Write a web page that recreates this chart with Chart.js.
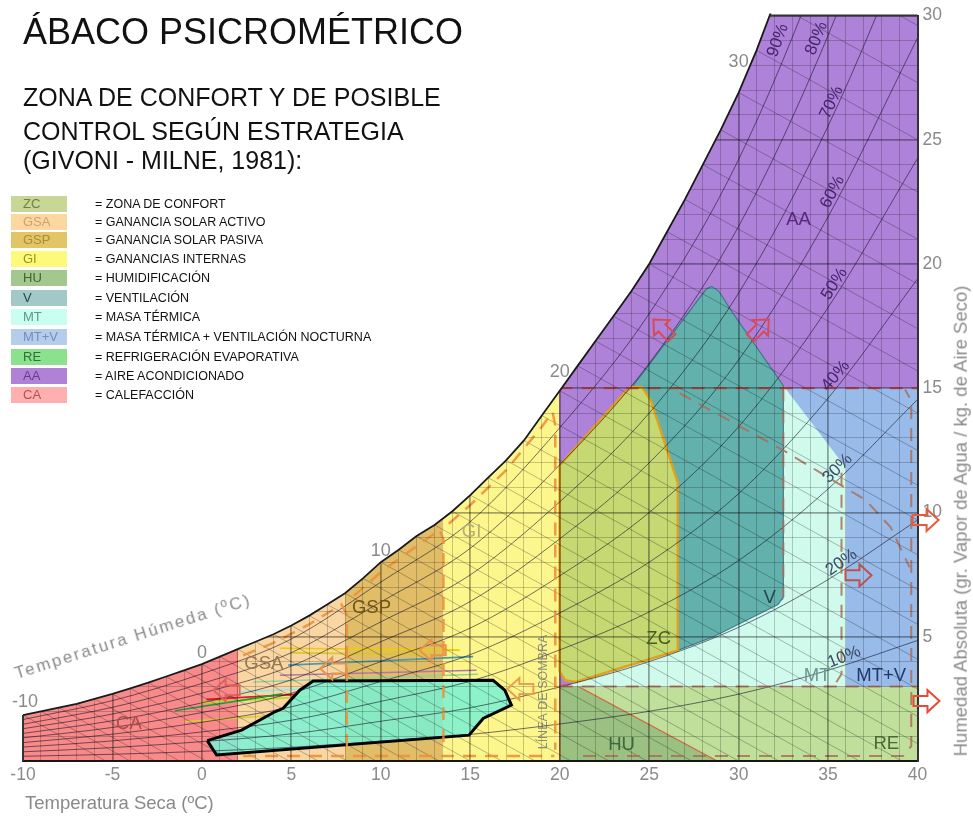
<!DOCTYPE html>
<html lang="es">
<head>
<meta charset="utf-8">
<title>Ábaco psicrométrico</title>
<script src="https://cdn.jsdelivr.net/npm/chart.js@4.4.0/dist/chart.umd.min.js"></script>
<style>
  body { margin: 0; background: #fff; }
  #contenedor { position: relative; width: 973px; height: 816px; font-family: "Liberation Sans", Arial, sans-serif; }
  #contenedor canvas { position: absolute; left: 0; top: 0; }
  .texto { position: absolute; white-space: nowrap; line-height: 1; pointer-events: none; }
  .titulo { left: 23px; top: 14px; font-size: 36px; color: #111; }
  .subtitulo { left: 23px; font-size: 25px; color: #111; }
  .muestra { position: absolute; left: 11px; width: 56px; height: 16px; line-height: 16px; font-size: 13px; padding-left: 12px; box-sizing: border-box; }
  .descripcion { position: absolute; left: 95px; height: 16px; line-height: 16px; font-size: 12.5px; color: #111; white-space: nowrap; }
  .gris { color: #8a8a8a; font-size: 18.5px; }
</style>
</head>
<body>
<div id="contenedor">
  <canvas id="abaco"></canvas>
  <div class="texto titulo">ÁBACO PSICROMÉTRICO</div>
  <div class="texto subtitulo" style="top:85px">ZONA DE CONFORT Y DE POSIBLE</div>
  <div class="texto subtitulo" style="top:119px">CONTROL SEGÚN ESTRATEGIA</div>
  <div class="texto subtitulo" style="top:148px">(GIVONI - MILNE, 1981):</div>
  <div id="leyenda"></div>
  <div class="texto gris" style="left:25px; top:794px">Temperatura Seca (ºC)</div>
  <div class="texto gris" style="left:961px; top:521px; transform: translate(-50%, -50%) rotate(-90deg)">Humedad Absoluta (gr. Vapor de Agua / kg. de Aire Seco)</div>
  <div class="texto" style="left:17px; top:665px; font-size:17px; letter-spacing:2.1px; color:#8a8a8a; transform-origin: 0 14.4px; transform: rotate(-17.6deg)">Temperatura Húmeda (ºC)</div>
</div>
<script>
// ---- Curva de saturación (temperatura seca ºC / humedad absoluta g/kg) ----
const tempSat = [-10, -9, -8, -7, -6, -5, -4, -3, -2, -1,
                 0, 1, 2, 3, 4, 5, 6, 7, 8, 9,
                 10, 11, 12, 13, 14, 15, 16, 17, 18, 19,
                 20, 21, 22, 23, 24, 25, 26, 27, 28, 29,
                 30, 31, 32, 33, 34, 35, 36, 37, 38, 39, 40];
const humSat = [1.85, 2.0, 2.15, 2.3, 2.5, 2.7, 2.92, 3.15, 3.4, 3.65,
                3.9, 4.2, 4.5, 4.8, 5.1, 5.45, 5.85, 6.3, 6.75, 7.35,
                8.0, 8.5, 9.05, 9.5, 10.05, 10.7, 11.4, 12.1, 12.9, 13.9,
                14.9, 15.9, 16.9, 17.9, 18.9, 20.0, 21.3, 22.6, 24.0, 25.4,
                26.9, 28.6, 30.5, 32.4, 34.4, 36.5, 38.7, 41.0, 43.4, 45.9, 48.5];

// ---- Curvas de humedad relativa, leídas cada 5 ºC ----
const tempHR = [-10, -5, 0, 5, 10, 15, 20, 25, 30, 35, 40];
const hr10 = [0.19, 0.27, 0.39, 0.55, 0.80, 1.07, 1.49, 2.00, 2.69, 3.65, 4.85];
const hr20 = [0.37, 0.54, 0.78, 1.09, 1.60, 2.14, 2.98, 4.00, 5.38, 7.30, 9.70];
const hr30 = [0.56, 0.81, 1.17, 1.64, 2.40, 3.21, 4.47, 6.00, 8.07, 10.95, 14.55];
const hr40 = [0.74, 1.08, 1.56, 2.18, 3.20, 4.28, 5.96, 8.00, 10.76, 14.60, 19.40];
const hr50 = [0.93, 1.35, 1.95, 2.73, 4.00, 5.35, 7.45, 10.00, 13.45, 18.25, 24.25];
const hr60 = [1.11, 1.62, 2.34, 3.27, 4.80, 6.42, 8.94, 12.00, 16.14, 21.90, 29.10];
const hr70 = [1.30, 1.89, 2.73, 3.82, 5.60, 7.49, 10.43, 14.00, 18.83, 25.55, 33.95];
const hr80 = [1.48, 2.16, 3.12, 4.36, 6.40, 8.56, 11.92, 16.00, 21.52, 29.20, 38.80];
const hr90 = [1.67, 2.43, 3.51, 4.91, 7.20, 9.63, 13.41, 18.00, 24.21, 32.85, 43.65];
const etiquetasHR = ['10%', '20%', '30%', '40%', '50%', '60%', '70%', '80%', '90%'];

// ---- Líneas de temperatura húmeda (una por grado) ----
const tempHumeda = [-10, -9, -8, -7, -6, -5, -4, -3, -2, -1, 0, 1, 2, 3, 4, 5, 6, 7, 8, 9, 10, 11,
                    12, 13, 14, 15, 16, 17, 18, 19, 20, 21, 22, 23, 24, 25, 26, 27, 28, 29, 30, 31, 32, 33, 34];
const pendienteHumeda = -0.4; // g/kg por ºC
const etiquetasHumeda = [-10, 0, 10, 20, 30];

// ---- Zonas de estrategia (vértices: T seca, humedad) ----
const zonaCA_T = [-10, -10, 2, 2];        const zonaCA_W = [0, 30, 30, 0];
const zonaGSA_T = [2, 2, 8, 8];           const zonaGSA_W = [0, 30, 30, 0];
const zonaGSP_T = [8, 8, 13.5, 13.5];     const zonaGSP_W = [0, 30, 30, 0];
const zonaGI_T = [13.5, 13.5, 20, 20];    const zonaGI_W = [0, 30, 30, 0];
const zonaAA_T = [20, 20, 40, 40];        const zonaAA_W = [0, 30, 30, 0];
const zonaRE_T = [20, 40, 40, 20];        const zonaRE_W = [0, 0, 3, 3];
const zonaHU_T = [20, 20, 20.9, 28.8];    const zonaHU_W = [0, 3.05, 3.05, 0];
const zonaMTV_T = [32.5, 40, 40, 36, 36]; const zonaMTV_W = [15, 15, 3, 3, 11.8];
const zonaMT_T = [20.4, 36, 36, 32.5, 32.5, 28.6, 26.6, 20.9];
const zonaMT_W = [3, 3, 11.8, 15.1, 6.5, 5.0, 4.45, 3.18];
const zonaV_T = [23.9, 28.2, 28.5, 28.9, 29.7, 32.5, 32.5, 32.2, 28.6, 26.6];
const zonaV_W = [14.9, 19.0, 19.1, 18.9, 18.0, 15.1, 6.6, 6.3, 5.0, 4.45];
const zonaZC_T = [20, 20, 20.3, 20.9, 26.6, 26.6, 25.1, 24.6, 24.0, 23.6];
const zonaZC_W = [11.9, 3.6, 3.25, 3.18, 4.45, 11.2, 14.5, 15.05, 15.05, 14.8];

// ---- Polígono de datos climáticos del lugar ----
const climaT = [0.30, 0.82, 14.93, 15.72, 17.30, 16.93, 16.27, 6.22, 5.47, 4.54, 4.08, 2.22];
const climaW = [0.82, 0.24, 1.04, 1.71, 2.25, 2.85, 3.25, 3.22, 2.85, 2.12, 1.98, 1.24];

// ---- Líneas mensuales (T mín - T máx) ----
const mesTIni = [4.36, 5.0, 4.82, 4.36, 2.87, 2.03, 0.26, -0.11, -1.51, -0.95];
const mesTFin = [14.41, 13.6, 15.16, 15.35, 15.44, 12.0, 5.3, 6.22, 4.5, 13.0];
const mesWIni = [4.54, 4.35, 3.86, 3.45, 3.18, 2.78, 2.48, 2.34, 2.02, 1.58];
const mesWFin = [4.46, 4.28, 4.20, 3.65, 3.49, 3.10, 2.68, 2.60, 2.70, 2.30];
const mesColor = ['#f0cc00', '#d9c82a', '#4f9aa8', '#b07aa8', '#8fd49a', '#9ae6e6', '#d42020', '#b8e020', '#1a9a40', '#d8d030'];

// ---- Bordes discontinuos de las estrategias ----
const guionBase_T = [2.3, 19.7];                           const guionBase_W = [0.2, 0.2];
const guionGSA_T = [2.3, 4, 6, 7.8, 8.1, 8.1];              const guionGSA_W = [4.25, 4.75, 5.5, 6.3, 5.9, 0.45];
const guionGSP_T = [8.5, 10, 12, 13.3, 13.5, 13.5];         const guionGSP_W = [6.65, 7.6, 8.65, 9.3, 8.9, 0.45];
const guionGI_T = [13.8, 15, 17, 19, 19.6, 19.75, 19.75];   const guionGI_W = [9.55, 10.3, 11.7, 13.45, 14.05, 13.5, 0.45];
const guionRE_T = [21.3, 39.2, 39.65, 39.65, 39.3];         const guionRE_W = [0.2, 0.2, 0.6, 14.5, 14.95];
const guionMT_T = [35.75, 35.75, 35.4];                     const guionMT_W = [11.6, 3.5, 3.1];
const guionV_T = [32.5, 32.5];                              const guionV_W = [15, 6.6];
const guionDiag_T = [26.7, 32.5, 37.1, 38.5, 39.55];        const guionDiag_W = [14.8, 12.5, 10.5, 9.4, 7.8];
const guion15_T = [20, 40];                                 const guion15_W = [15, 15];
const guion3_T = [20, 40];                                  const guion3_W = [3, 3];

// ---- Leyenda ----
const leyendaCodigo = ['ZC', 'GSA', 'GSP', 'GI', 'HU', 'V', 'MT', 'MT+V', 'RE', 'AA', 'CA'];
const leyendaTexto = ['= ZONA DE CONFORT', '= GANANCIA SOLAR ACTIVO', '= GANANCIA SOLAR PASIVA', '= GANANCIAS INTERNAS',
  '= HUMIDIFICACIÓN', '= VENTILACIÓN', '= MASA TÉRMICA', '= MASA TÉRMICA + VENTILACIÓN NOCTURNA',
  '= REFRIGERACIÓN EVAPORATIVA', '= AIRE ACONDICIONADO', '= CALEFACCIÓN'];
const leyendaFondo = ['#c8d796', '#fdd7a0', '#e2c666', '#fdfa7a', '#a2c88e', '#a2c8c8', '#c8fff0', '#b4cdeb', '#8ce18c', '#af82d7', '#ffafaf'];
const leyendaTinta = ['#6e8246', '#d2a06e', '#aa8c3c', '#969628', '#3c6432', '#284650', '#649689', '#788cbe', '#326e3c', '#643c96', '#b45050'];
const leyendaArriba = [196, 214, 232, 251, 270, 290, 309, 329, 349, 368, 387];

// ---- Rótulos dentro del ábaco (posición en T, W) ----
const rotulos = ['CA', 'GSA', 'GSP', 'GI', 'ZC', 'V', 'HU', 'RE', 'MT', 'MT+V', 'AA'];
const rotulosT = [-4.08, 3.46, 9.48, 15.07, 25.53, 31.73, 23.46, 38.25, 34.39, 37.97, 33.35];
const rotulosW = [1.49, 3.91, 6.18, 9.22, 4.9, 6.57, 0.64, 0.68, 3.43, 3.43, 21.77];
const rotulosColor = ['#b04b4b', '#96784f', '#6e5514', '#b4af78', '#465f1e', '#1e4650', '#3c693c', '#4b6937', '#6e968c', '#23376e', '#552878'];
const rotulosHR_T = [35.9, 35.75, 35.53, 35.42, 35.36, 35.25, 35.2, 34.36, 32.2];
const rotulosHR_W = [4.18, 7.99, 11.77, 15.5, 19.2, 22.9, 26.5, 29.08, 29.0];
const rotulosHR_Giro = [-22, -35, -45, -50, -57, -62, -65, -68, -70];
const flechasT = [1.38, 7.34, 12.9, 17.8, 25.75, 31.17, 40.45, 36.7, 40.5];
const flechasW = [2.85, 3.72, 4.46, 2.9, 17.4, 17.4, 9.7, 7.47, 2.41];
const flechasGiro = [0, 0, 0, 0, 45, 135, 180, 180, 180];
const flechasColor = ['#e0605a', '#e8924a', '#e8924a', '#e8a050', '#d84a5a', '#d84a5a', '#e85a3a', '#c0504a', '#e84a3a'];

// Construcción de datasets
function puntos(ts, ws) { return ts.map((t, i) => ({ x: t, y: ws[i] })); }
function cerrado(ts, ws) { const p = puntos(ts, ws); p.push(p[0]); return p; }

const capas = [];
function zona(ts, ws, relleno, borde, ancho) {
    capas.push({ data: cerrado(ts, ws), fill: 'shape', backgroundColor: relleno,
                 borderColor: borde || 'rgba(0,0,0,0)', borderWidth: ancho || 0 });
}
function linea(data, color, ancho, guiones, suave) {
    capas.push({ data: data, fill: false, borderColor: color, borderWidth: ancho,
                 borderDash: guiones || [], cubicInterpolationMode: suave ? 'monotone' : 'default' });
}

// Zonas (de abajo hacia arriba)
zona(zonaCA_T, zonaCA_W, '#f98a8a', 'rgba(215,70,70,0.9)', 1.5);
zona(zonaGSA_T, zonaGSA_W, '#fad6a2');
zona(zonaGSP_T, zonaGSP_W, '#e1bd68');
zona(zonaGI_T, zonaGI_W, '#fdf68c');
zona(zonaAA_T, zonaAA_W, '#ae82d8', 'rgba(110,60,140,0.6)', 1);
zona(zonaRE_T, zonaRE_W, '#bfdf9a');
zona(zonaHU_T, zonaHU_W, '#9ac181', 'rgba(215,80,60,0.8)', 1.2);
zona(zonaMTV_T, zonaMTV_W, '#98bbea');
zona(zonaMT_T, zonaMT_W, '#d0faec');
zona(zonaV_T, zonaV_W, '#63b1ac', 'rgba(50,110,130,0.8)', 1.2);
zona(zonaZC_T, zonaZC_W, '#c5d872', '#e1a01e', 2.5);

// Líneas mensuales y polígono climático
mesTIni.forEach((t, i) => linea(puntos([t, mesTFin[i]], [mesWIni[i], mesWFin[i]]), mesColor[i], 1.6));
zona(climaT, climaW, 'rgba(120,242,212,0.85)', '#000', 3);

// Curvas de humedad relativa
[hr10, hr20, hr30, hr40, hr50, hr60, hr70, hr80, hr90].forEach(serie =>
    linea(puntos(tempHR, serie), 'rgba(25,20,45,0.6)', 1, null, true));

// Líneas de temperatura húmeda: desde la curva de saturación hasta humedad 0
tempHumeda.forEach(t => {
    const w = humSat[tempSat.indexOf(t)];
    linea(puntos([t, t - w / pendienteHumeda], [w, 0]), 'rgba(0,0,0,0.26)', 1);
});

// Bordes discontinuos
const naranja = 'rgba(235,145,60,0.9)', marron = 'rgba(170,110,90,0.85)', rojo = 'rgba(215,70,60,0.85)';
linea(puntos(guionBase_T, guionBase_W), naranja, 2.5, [13, 9]);
linea(puntos(guionGSA_T, guionGSA_W), naranja, 2.5, [13, 9]);
linea(puntos(guionGSP_T, guionGSP_W), naranja, 2.5, [13, 9]);
linea(puntos(guionGI_T, guionGI_W), naranja, 2.5, [13, 9]);
linea(puntos(guionRE_T, guionRE_W), marron, 2, [13, 9]);
linea(puntos(guionMT_T, guionMT_W), marron, 2, [13, 9]);
linea(puntos(guionV_T, guionV_W), marron, 2, [13, 9]);
linea(puntos(guionDiag_T, guionDiag_W), marron, 2, [13, 9]);
linea(puntos(guion15_T, guion15_W), rojo, 2, [13, 9]);
linea(puntos(guion3_T, guion3_W), marron, 2, [13, 9]);

capas.forEach((c, i) => { c.order = capas.length - i; });

// Leyenda en HTML
const leyenda = document.getElementById('leyenda');
leyendaCodigo.forEach((cod, i) => {
    const m = document.createElement('div');
    m.className = 'muestra';
    m.style.top = leyendaArriba[i] + 'px';
    m.style.background = leyendaFondo[i];
    m.style.color = leyendaTinta[i];
    m.textContent = cod;
    leyenda.appendChild(m);
    const d = document.createElement('div');
    d.className = 'descripcion';
    d.style.top = leyendaArriba[i] + 'px';
    d.textContent = leyendaTexto[i];
    leyenda.appendChild(d);
});

function flecha(ctx, x, y, giro, color) {
    ctx.save();
    ctx.translate(x, y);
    ctx.rotate(giro * Math.PI / 180);
    ctx.beginPath();
    ctx.moveTo(-13, 0); ctx.lineTo(-1, -11); ctx.lineTo(-1, -5); ctx.lineTo(13, -5);
    ctx.lineTo(13, 5); ctx.lineTo(-1, 5); ctx.lineTo(-1, 11); ctx.closePath();
    ctx.lineWidth = 2; ctx.strokeStyle = color; ctx.stroke();
    ctx.restore();
}

// Máscara blanca sobre la curva de saturación, marco y rótulos
const dibujoAbaco = {
    id: 'dibujoAbaco',
    afterDraw(chart) {
        const { ctx, chartArea: a } = chart;
        const px = (t) => chart.scales.x.getPixelForValue(t);
        const py = (w) => chart.scales.y.getPixelForValue(w);
        const curva = tempSat.map((t, i) => [px(t), py(humSat[i])]);

        ctx.save();
        ctx.beginPath();
        ctx.rect(a.left - 2, a.top - 2, a.right - a.left + 4, a.bottom - a.top + 4);
        ctx.clip();
        ctx.beginPath();
        ctx.moveTo(a.left - 2, curva[0][1]);
        curva.forEach(p => ctx.lineTo(p[0], p[1]));
        ctx.lineTo(curva[curva.length - 1][0], a.top - 2000);
        ctx.lineTo(a.left - 2, a.top - 2000);
        ctx.closePath();
        ctx.fillStyle = '#fff';
        ctx.fill();
        ctx.beginPath();
        curva.forEach((p, i) => i ? ctx.lineTo(p[0], p[1]) : ctx.moveTo(p[0], p[1]));
        ctx.lineWidth = 1.8;
        ctx.strokeStyle = '#1a1a1a';
        ctx.stroke();
        ctx.restore();

        // marco izquierdo y superior
        let xCruce = a.right;
        for (let i = 1; i < curva.length; i++) {
            if (curva[i][1] <= a.top && curva[i - 1][1] > a.top) {
                const f = (curva[i - 1][1] - a.top) / (curva[i - 1][1] - curva[i][1]);
                xCruce = curva[i - 1][0] + f * (curva[i][0] - curva[i - 1][0]);
                break;
            }
        }
        ctx.save();
        ctx.strokeStyle = '#333';
        ctx.lineWidth = 2;
        ctx.beginPath();
        ctx.moveTo(a.left, a.bottom); ctx.lineTo(a.left, curva[0][1]);
        ctx.moveTo(xCruce, a.top); ctx.lineTo(a.right, a.top);
        ctx.stroke();

        // rótulos de temperatura húmeda
        const subir = [13, 11, 11, 19, 31], correr = [2, 0, 0, 0, 0];
        ctx.font = '18px "Liberation Sans", Arial, sans-serif';
        ctx.fillStyle = '#8a8a8a';
        ctx.textAlign = 'center';
        ctx.textBaseline = 'middle';
        etiquetasHumeda.forEach((t, k) => {
            const w = humSat[tempSat.indexOf(t)];
            ctx.fillText(String(t), px(t) + correr[k], py(w) - subir[k]);
        });

        // rótulos de zonas
        ctx.font = '18.5px "Liberation Sans", Arial, sans-serif';
        rotulos.forEach((r, i) => {
            ctx.fillStyle = rotulosColor[i];
            ctx.fillText(r, px(rotulosT[i]), py(rotulosW[i]));
        });

        // rótulos de humedad relativa
        ctx.font = '17px "Liberation Sans", Arial, sans-serif';
        etiquetasHR.forEach((r, i) => {
            ctx.save();
            ctx.translate(px(rotulosHR_T[i]), py(rotulosHR_W[i]));
            ctx.rotate(rotulosHR_Giro[i] * Math.PI / 180);
            ctx.fillStyle = i < 3 ? '#3c4b64' : '#46236e';
            ctx.fillText(r, 0, 0);
            ctx.restore();
        });

        // línea de sombra
        ctx.save();
        ctx.translate(544, 692);
        ctx.rotate(-Math.PI / 2);
        ctx.font = '12.5px "Liberation Sans", Arial, sans-serif';
        ctx.fillStyle = 'rgba(120,120,120,0.85)';
        ctx.fillText('LÍNEA DE SOMBRA', 0, 0);
        ctx.restore();

        // flechas de estrategia
        flechasT.forEach((t, i) => flecha(ctx, px(t), py(flechasW[i]), flechasGiro[i], flechasColor[i]));
        ctx.restore();
    }
};

const gridMenor = 'rgba(0,0,0,0.2)', gridMayor = 'rgba(0,0,0,0.34)';

new Chart(document.getElementById('abaco'), {
    type: 'line',
    data: { datasets: capas },
    options: {
        responsive: true,
        maintainAspectRatio: false,
        animation: false,
        devicePixelRatio: 1,
        events: [],
        layout: { padding: { left: 23, top: 14, right: 26, bottom: 26 } },
        elements: { point: { radius: 0 }, line: { tension: 0 } },
        plugins: { legend: { display: false }, tooltip: { enabled: false } },
        scales: {
            x: {
                type: 'linear', min: -10, max: 40,
                grid: {
                    z: 1,
                    drawTicks: false,
                    color: (c) => (c.tick && c.tick.value % 5 === 0 ? gridMayor : gridMenor),
                    lineWidth: (c) => (c.tick && c.tick.value % 5 === 0 ? 1.8 : 1)
                },
                border: { display: true, color: '#222', width: 2, z: 1 },
                ticks: {
                    stepSize: 1, autoSkip: false, maxRotation: 0, padding: 4,
                    color: '#8a8a8a', font: { size: 17.5, family: '"Liberation Sans", Arial, sans-serif' },
                    callback: (v) => (v % 5 === 0 ? String(v) : '')
                }
            },
            y: {
                type: 'linear', position: 'right', min: 0, max: 30,
                grid: {
                    z: 1,
                    drawTicks: false,
                    color: (c) => (c.tick && c.tick.value % 5 === 0 ? gridMayor : gridMenor),
                    lineWidth: (c) => (c.tick && c.tick.value % 5 === 0 ? 1.8 : 1)
                },
                border: { display: true, color: '#333', width: 2, z: 1 },
                ticks: {
                    stepSize: 1, autoSkip: false, padding: 5,
                    color: '#8a8a8a', font: { size: 17.5, family: '"Liberation Sans", Arial, sans-serif' },
                    callback: (v) => (v % 5 === 0 && v !== 0 ? String(v) : '')
                }
            }
        }
    },
    plugins: [dibujoAbaco]
});
</script>
</body>
</html>
